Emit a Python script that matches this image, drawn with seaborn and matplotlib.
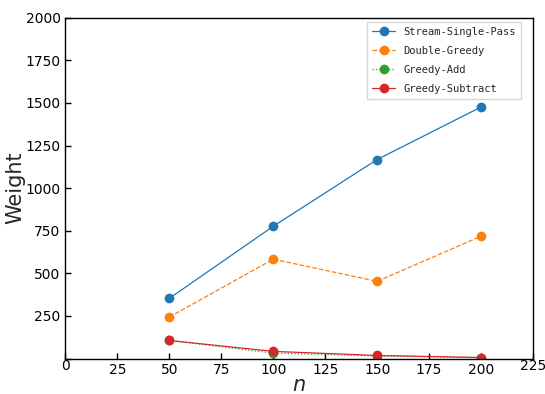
import matplotlib
matplotlib.use("Agg")
import matplotlib.pyplot as plt
import matplotlib.transforms as mtransforms
import pandas as pd
import seaborn as sns

# data
n_vals = [50, 100, 150, 200]
stream_single_pass = [353, 776, 1168, 1476]
double_greedy = [243, 583, 453, 718]
greedy_add = [106, 32, 15, 5]
greedy_subtract = [106, 42, 18, 6]

series = {
    "Stream-Single-Pass": stream_single_pass,
    "Double-Greedy": double_greedy,
    "Greedy-Add": greedy_add,
    "Greedy-Subtract": greedy_subtract,
}
estilos = {
    "Stream-Single-Pass": ("-", "#1f77b4"),
    "Double-Greedy": ("--", "#ff7f0e"),
    "Greedy-Add": (":", "#2ca02c"),
    "Greedy-Subtract": ("-", "#d62728"),
}

rows = []
for nombre, vals in series.items():
    for x, y in zip(n_vals, vals):
        rows.append({"n": x, "Weight": y, "alg": nombre})
df = pd.DataFrame(rows)

sns.set_style("ticks")
plt.rcParams["font.family"] = ["DejaVu Sans"]

fig, ax = plt.subplots(figsize=(5.45, 3.94), dpi=100)
fig.subplots_adjust(left=0.12, right=0.978, top=0.955, bottom=0.09)

for nombre in series:
    ls, col = estilos[nombre]
    sub = df[df["alg"] == nombre]
    sns.lineplot(data=sub, x="n", y="Weight", ax=ax, color=col, linestyle=ls,
                 linewidth=0.9, marker="o", markersize=7, markeredgewidth=0,
                 label=nombre)

ax.set_xlim(0, 225)
ax.set_ylim(0, 2000)
ax.set_xticks(range(0, 226, 25))
ax.set_yticks(range(0, 2001, 250))
ax.tick_params(direction="in", labelsize=10, length=4, width=1, colors="black")
ax.set_xlabel("$n$", fontsize=15, labelpad=-2)
ax.set_ylabel("Weight", fontsize=15, labelpad=0)
for s in ax.spines.values():
    s.set_visible(True)
    s.set_linewidth(1)
    s.set_color("black")

# 0 de y oculto, 0 y 225 de x un poco más arriba
ax.get_yticklabels()[0].set_visible(False)
fig.canvas.draw()
subir = mtransforms.ScaledTranslation(0, 3 / 72, fig.dpi_scale_trans)
xl = ax.get_xticklabels()
for lab in (xl[0], xl[-1]):
    lab.set_transform(lab.get_transform() + subir)

ax.legend(loc="upper right", bbox_to_anchor=(0.975, 0.988), borderaxespad=0,
          prop={"family": "DejaVu Sans Mono", "size": 7.5},
          frameon=True, fancybox=False, edgecolor="#cccccc",
          handlelength=2.2, borderpad=0.5, labelspacing=0.85)

fig.savefig("out.png", dpi=100)
